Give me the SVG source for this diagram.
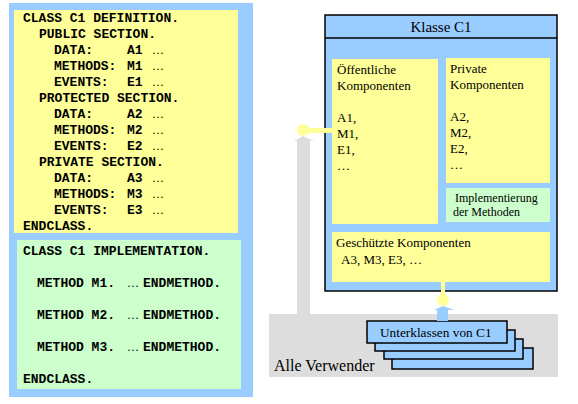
<svg xmlns="http://www.w3.org/2000/svg" width="578" height="404" viewBox="0 0 578 404">
<style>
.code{font-family:"Liberation Mono","Courier New",monospace;font-weight:bold;font-size:13px;fill:#000}
.ell{font-family:"Liberation Serif",serif;font-weight:normal;font-size:12px}
.t{font-family:"Liberation Serif","Times New Roman",serif;font-size:13px;fill:#000}
.blue{fill:#99CCFF}
.yel{fill:#FFFF99}
.grn{fill:#CCFFCC}
.gray{fill:#DDDDDD}
.bx{stroke:#000;stroke-width:1.5}
</style>
<rect width="578" height="404" fill="#fff"/>

<g id="code-panel">
<rect class="blue" x="9" y="3" width="244" height="394"/>
<g id="definition">
<rect class="yel" x="14" y="10" width="224" height="223"/>
<text class="code" x="23" y="22">CLASS C1 DEFINITION.</text>
<text class="code" x="39" y="38">PUBLIC SECTION.</text>
<text class="code" x="54" y="54">DATA:</text><text class="code" x="127" y="54">A1 <tspan class="ell" x="152">…</tspan></text>
<text class="code" x="54" y="70">METHODS:</text><text class="code" x="127" y="70">M1 <tspan class="ell" x="152">…</tspan></text>
<text class="code" x="54" y="86">EVENTS:</text><text class="code" x="127" y="86">E1 <tspan class="ell" x="152">…</tspan></text>
<text class="code" x="39" y="102">PROTECTED SECTION.</text>
<text class="code" x="54" y="118">DATA:</text><text class="code" x="127" y="118">A2 <tspan class="ell" x="152">…</tspan></text>
<text class="code" x="54" y="134">METHODS:</text><text class="code" x="127" y="134">M2 <tspan class="ell" x="152">…</tspan></text>
<text class="code" x="54" y="150">EVENTS:</text><text class="code" x="127" y="150">E2 <tspan class="ell" x="152">…</tspan></text>
<text class="code" x="39" y="166">PRIVATE SECTION.</text>
<text class="code" x="54" y="182">DATA:</text><text class="code" x="127" y="182">A3 <tspan class="ell" x="152">…</tspan></text>
<text class="code" x="54" y="198">METHODS:</text><text class="code" x="127" y="198">M3 <tspan class="ell" x="152">…</tspan></text>
<text class="code" x="54" y="214">EVENTS:</text><text class="code" x="127" y="214">E3 <tspan class="ell" x="152">…</tspan></text>
<text class="code" x="23" y="230">ENDCLASS.</text>
</g>
<g id="implementation">
<rect class="grn" x="17" y="240" width="224" height="149"/>
<text class="code" x="23" y="255">CLASS C1 IMPLEMENTATION.</text>
<text class="code" x="37" y="287">METHOD M1. <tspan class="ell" x="127">…</tspan><tspan x="143">ENDMETHOD.</tspan></text>
<text class="code" x="37" y="319">METHOD M2. <tspan class="ell" x="127">…</tspan><tspan x="143">ENDMETHOD.</tspan></text>
<text class="code" x="37" y="351">METHOD M3. <tspan class="ell" x="127">…</tspan><tspan x="143">ENDMETHOD.</tspan></text>
<text class="code" x="23" y="383">ENDCLASS.</text>
</g>
</g>

<g id="alle-verwender">
<rect class="gray" x="269" y="314" width="289" height="63"/>
<text class="t" x="274" y="371" style="font-size:16px">Alle Verwender</text>
</g>

<g id="klasse-c1">
<rect class="blue bx" x="325" y="15" width="232" height="276"/>
<line x1="325" y1="38" x2="557" y2="38" stroke="#000" stroke-width="1.5"/>
<text class="t" x="441" y="32" text-anchor="middle" style="font-size:15px">Klasse C1</text>
<g id="oeffentlich">
<rect class="yel" x="332" y="59" width="106" height="165"/>
<text class="t" x="337" y="74">Öffentliche</text>
<text class="t" x="337" y="90">Komponenten</text>
<text class="t" x="337" y="122">A1,</text>
<text class="t" x="337" y="138">M1,</text>
<text class="t" x="337" y="154">E1,</text>
<text class="t" x="337" y="170">…</text>
</g>
<g id="private">
<rect class="yel" x="446" y="58" width="104" height="125"/>
<text class="t" x="450" y="73">Private</text>
<text class="t" x="450" y="89">Komponenten</text>
<text class="t" x="450" y="121">A2,</text>
<text class="t" x="450" y="137">M2,</text>
<text class="t" x="450" y="153">E2,</text>
<text class="t" x="450" y="169">…</text>
</g>
<g id="implementierung">
<rect class="grn" x="446" y="188" width="104" height="34"/>
<text class="t" x="455" y="202" style="font-size:12px">Implementierung</text>
<text class="t" x="453" y="216" style="font-size:12px">der Methoden</text>
</g>
<g id="geschuetzt">
<rect class="yel" x="332" y="232" width="218" height="50"/>
<text class="t" x="336" y="247">Geschützte Komponenten</text>
<text class="t" x="341" y="264">A3, M3, E3, …</text>
</g>
</g>

<g id="unterklassen">
<rect class="blue bx" x="392" y="348" width="141" height="21"/>
<rect class="blue bx" x="384" y="339" width="139" height="20"/>
<rect class="blue bx" x="375" y="330" width="140" height="21"/>
<rect class="blue bx" x="367" y="321" width="140" height="22"/>
<text class="t" x="380" y="337" style="font-size:13.3px">Unterklassen von C1</text>
</g>

<g id="connectors">
<polygon class="gray" points="297,314 297,141 294,141 303,136 314,141 310,141 310,314"/>
<rect class="yel" x="303" y="128" width="29" height="5"/>
<circle class="yel" cx="303" cy="130" r="6"/>
<rect class="yel" x="441" y="282" width="4" height="18"/>
<circle class="yel" cx="443" cy="300" r="6"/>
<polygon class="blue" points="437,321 437,310 434,310 443,306 454,310 448,310 448,321"/>
</g>
</svg>
